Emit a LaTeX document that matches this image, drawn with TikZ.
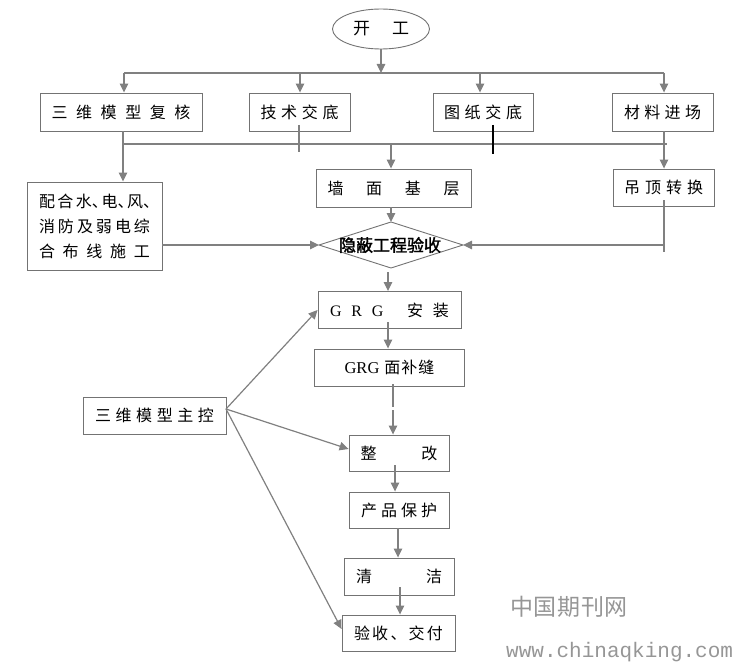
\documentclass[tikz,border=0pt]{standalone}
\usepackage{fontspec}
\setmainfont{Noto Sans CJK SC}
\newfontfamily\cjkbold{Noto Sans CJK SC}[FakeBold=1.8]
\newfontfamily\latinserif{Liberation Serif}
\newfontfamily\latinmono{Liberation Mono}
\usetikzlibrary{arrows.meta,shapes.geometric}
\definecolor{linegray}{RGB}{128,128,128}
\definecolor{boxgray}{RGB}{115,115,115}
\definecolor{wmgray}{RGB}{150,150,150}
\newcommand\spreadtxt[2]{\makebox[#1][s]{#2}}
\begin{document}
\begin{tikzpicture}[x=1pt,y=-1pt,
  ln/.style={draw=linegray, line width=1.2pt},
  arr/.style={draw=linegray, line width=1.2pt, -{Triangle[length=9pt,width=8.5pt]}},
  box/.style={draw=boxgray, line width=0.9pt, rectangle, inner sep=0pt, text=black,
              font=\fontsize{16}{18}\selectfont}]
\useasboundingbox (0,0) rectangle (736,666);

% ---------- nodes ----------
\node[box, ellipse, minimum width=97pt, minimum height=40pt, font=\fontsize{17}{19}\selectfont] (start) at (381,29) {\spreadtxt{56pt}{开\hfill 工}};

\node[box, minimum width=162pt, minimum height=38pt] (b1) at (121,112) {\spreadtxt{139pt}{三\hfill 维\hfill 模\hfill 型\hfill 复\hfill 核}};
\node[box, minimum width=101pt, minimum height=38pt] (b2) at (299.5,112) {\spreadtxt{78pt}{技\hfill 术\hfill 交\hfill 底}};
\node[box, minimum width=100pt, minimum height=38pt] (b3) at (483,112) {\spreadtxt{78pt}{图\hfill 纸\hfill 交\hfill 底}};
\node[box, minimum width=101pt, minimum height=38pt] (b4) at (662.5,112) {\spreadtxt{77pt}{材\hfill 料\hfill 进\hfill 场}};

\node[box, minimum width=155pt, minimum height=38pt] (qm) at (393.5,188) {\spreadtxt{132pt}{墙\hfill 面\hfill 基\hfill 层}};
\node[box, minimum width=101pt, minimum height=37pt] (dd) at (663.5,187.5) {\spreadtxt{79pt}{吊\hfill 顶\hfill 转\hfill 换}};

\node[box, minimum width=135pt, minimum height=88pt, align=center, font=\fontsize{16}{25}\selectfont] (ph) at (94.5,226)
  {\spreadtxt{111pt}{配\hfill 合\hfill 水\makebox[7pt][l]{、}\hfill 电\makebox[7pt][l]{、}\hfill 风\makebox[7pt][l]{、}}\\
   \spreadtxt{111pt}{消\hfill 防\hfill 及\hfill 弱\hfill 电\hfill 综}\\
   \spreadtxt{111pt}{合\hfill 布\hfill 线\hfill 施\hfill 工}};

% diamond
\coordinate (dmL) at (319,245);
\coordinate (dmR) at (463,245);
\coordinate (dmT) at (391,222);
\coordinate (dmB) at (391,268);
\draw[draw=boxgray, line width=0.9pt] (dmL) -- (dmT) -- (dmR) -- (dmB) -- cycle;
\node[inner sep=0pt, font=\fontsize{17}{19}\cjkbold] (dm) at (390,245) {隐蔽工程验收};

\node[box, minimum width=143pt, minimum height=37pt] (g1) at (389.5,310)
  {\spreadtxt{119pt}{{\latinserif\fontsize{16}{18}\selectfont G}\hfill{\latinserif\fontsize{16}{18}\selectfont R}\hfill{\latinserif\fontsize{16}{18}\selectfont G}\hfill\hspace{14pt}安\hfill 装}};
\node[box, minimum width=150pt, minimum height=37pt] (g2) at (389.5,367.5)
  {{\latinserif\fontsize{16.5}{18}\selectfont GRG}\hspace{5pt}面\hspace{1pt}补\hspace{1pt}缝};

\node[box, minimum width=100pt, minimum height=36pt] (zg) at (399,453) {\spreadtxt{77pt}{整\hfill 改}};
\node[box, minimum width=100pt, minimum height=36pt] (cp) at (399,510) {\spreadtxt{76pt}{产\hfill 品\hfill 保\hfill 护}};
\node[box, minimum width=110pt, minimum height=37pt] (qj) at (399,576.5) {\spreadtxt{86pt}{清\hfill 洁}};
\node[box, minimum width=113pt, minimum height=36pt] (ys) at (398.5,633) {\spreadtxt{89pt}{验\hfill 收\hfill 、\hfill 交\hfill 付}};

\node[box, minimum width=143pt, minimum height=37pt] (zk) at (154.5,415.5) {\spreadtxt{119pt}{三\hfill 维\hfill 模\hfill 型\hfill 主\hfill 控}};

% ---------- connectors: top bus ----------
\coordinate (bus) at (381,73);
\coordinate (t1) at (124,73);
\coordinate (t2) at (300,73);
\coordinate (t3) at (480,73);
\coordinate (t4) at (664,73);
\draw[arr] (start.south) -- (bus);
\draw[ln] (t1) -- (t4);
\draw[arr] (t1) -- (t1 |- b1.north);
\draw[arr] (t2) -- (t2 |- b2.north);
\draw[arr] (t3) -- (t3 |- b3.north);
\draw[arr] (t4) -- (t4 |- b4.north);

% ---------- second bus ----------
\coordinate (u1) at (123,144);
\coordinate (u4) at (667,144);
\coordinate (m) at (391,144);
\coordinate (x4) at (664,144);
\coordinate (v2a) at (299,125);
\coordinate (v2b) at (299,152);
\coordinate (w3a) at (493,125);
\coordinate (w3b) at (493,154);
\draw[ln] (u1) -- (u4);
\draw[arr] (u1 |- b1.south) -- (u1 |- ph.north);
\draw[ln] (v2a) -- (v2b);
\draw[black, line width=1.2pt] (w3a) -- (w3b);
\draw[arr] (x4 |- b4.south) -- (x4 |- dd.north);
\draw[arr] (m) -- (m |- qm.north);

% ---------- into the diamond ----------
\draw[arr] (m |- qm.south) -- (dmT);
\draw[arr] (ph.east |- dmL) -- (dmL);
\coordinate (dd1) at (664,200);
\coordinate (dd2) at (664,252);
\draw[ln] (dd1) -- (dd2);
\draw[arr] (dd2 |- dmR) -- (dmR);

% ---------- main column ----------
\coordinate (g1a) at (388,272);
\draw[arr] (g1a) -- (g1a |- g1.north);
\coordinate (g2a) at (388,322);
\draw[arr] (g2a) -- (g2a |- g2.north);
\coordinate (zga) at (393,384);
\coordinate (zgb) at (393,407);
\coordinate (zgc) at (393,410);
\draw[ln] (zga) -- (zgb);
\draw[arr] (zgc) -- (zgc |- zg.north);
\coordinate (cpa) at (395,465);
\draw[arr] (cpa) -- (cpa |- cp.north);
\coordinate (qja) at (398,528);
\draw[arr] (qja) -- (qja |- qj.north);
\coordinate (ysa) at (400,587);
\draw[arr] (ysa) -- (ysa |- ys.north);

% ---------- from 三维模型主控 ----------
\coordinate (zkR) at (226,409);
\draw[arr] (zkR) -- (g1.west);
\draw[arr] (zkR) -- ([yshift=4pt]zg.west);
\draw[arr] (zkR) -- ([yshift=4pt]ys.west);

% ---------- watermark ----------
\node[inner sep=0pt, text=wmgray, font=\fontsize{23}{25}\selectfont] (wm1) at (569,607) {\spreadtxt{118pt}{中\hfill 国\hfill 期\hfill 刊\hfill 网}};
\node[inner sep=0pt, anchor=base west, text=wmgray, font=\fontsize{21}{24}\latinmono] (wm2) at (506,657) {www.chinaqking.com};
\end{tikzpicture}
\end{document}
